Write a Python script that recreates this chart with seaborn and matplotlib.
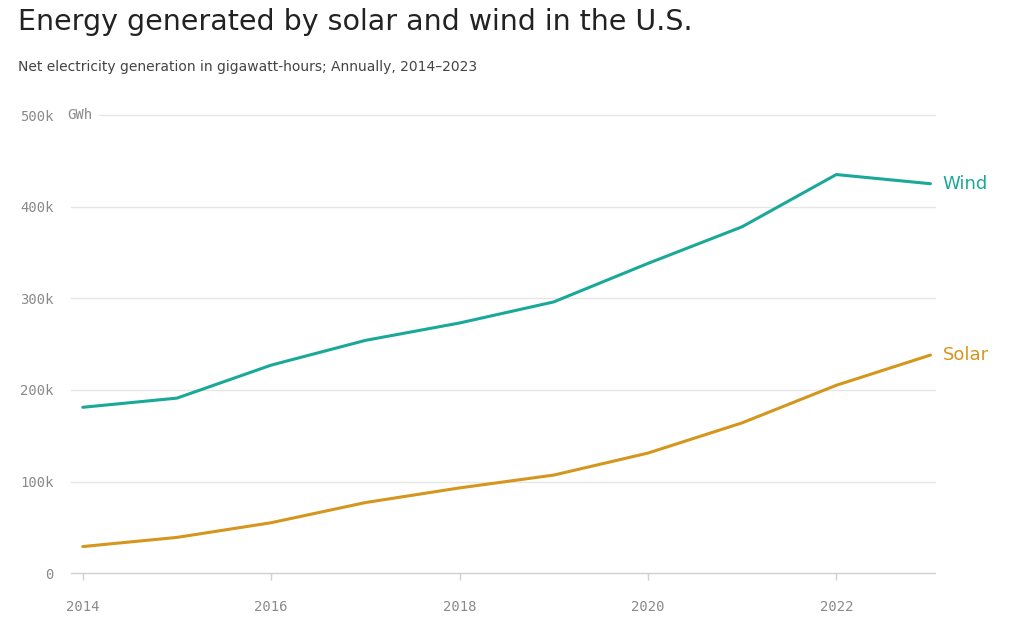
import matplotlib
matplotlib.use("Agg")
import matplotlib.pyplot as plt
import seaborn as sns
import pandas as pds

years = [2014, 2015, 2016, 2017, 2018, 2019, 2020, 2021, 2022, 2023]
wind = [181, 191, 227, 254, 273, 296, 338, 378, 435, 425]
solar = [29, 39, 55, 77, 93, 107, 131, 164, 205, 238]
y_ticks = [0, 100, 200, 300, 400, 500]
x_ticks = [2014, 2016, 2018, 2020, 2022]

WIND_C = "#1aa899"
SOLAR_C = "#d4961c"
GREY = "#8a8a8a"

df = pds.DataFrame({"year": years * 2,
                    "gwh": [v * 1000 for v in wind + solar],
                    "src": ["Wind"] * 10 + ["Solar"] * 10})

sns.set_theme(style="white")
plt.rcParams['font.family'] = ['DejaVu Sans']

fig = plt.figure(figsize=(10.35, 6.25), dpi=100)
ax = fig.add_axes([0.080, 0.083, 0.819, 0.733])

# gridlines
for t in y_ticks[1:]:
    start = 2014.17 if t == 500 else 2013.87
    ax.plot([start, 2023.05], [t * 1000, t * 1000], color="#e6e6e6", lw=1, clip_on=False, zorder=0)
ax.plot([2013.87, 2023.05], [0, 0], color="#d0d0d0", lw=1, clip_on=False, zorder=0)

sns.lineplot(data=df, x="year", y="gwh", hue="src", palette={"Wind": WIND_C, "Solar": SOLAR_C},
             lw=2.2, legend=False, ax=ax, clip_on=False)

ax.set_xlim(2014, 2023)
ax.set_ylim(0, 500000)
for s in ax.spines.values():
    s.set_visible(False)
ax.set_xlabel("")
ax.set_ylabel("")
ax.set_yticks([t * 1000 for t in y_ticks])
ax.set_yticklabels([f"{t}k" if t else "0" for t in y_ticks], family="DejaVu Sans Mono",
                   color=GREY, fontsize=10)
ax.tick_params(axis="y", length=0, pad=21)
ax.set_xticks(x_ticks)
ax.set_xticklabels([str(x) for x in x_ticks], family="DejaVu Sans Mono", color=GREY, fontsize=10)
ax.tick_params(axis="x", length=5, width=1, color="#d0d0d0", pad=14, bottom=True)
ax.text(2013.83, 500000, "GWh", family="DejaVu Sans Mono", color=GREY, fontsize=10,
        ha="left", va="center")

ax.text(2023.13, wind[-1] * 1000, "Wind", color=WIND_C, fontsize=13, va="center")
ax.text(2023.13, solar[-1] * 1000, "Solar", color=SOLAR_C, fontsize=13, va="center")

fig.text(0.017, 0.965, "Energy generated by solar and wind in the U.S.", fontsize=20.5,
         color="#222222", va="center")
fig.text(0.017, 0.893, "Net electricity generation in gigawatt-hours; Annually, 2014\u20132023",
         fontsize=10, color="#444444", va="center")

fig.savefig("out.png", dpi=100)
